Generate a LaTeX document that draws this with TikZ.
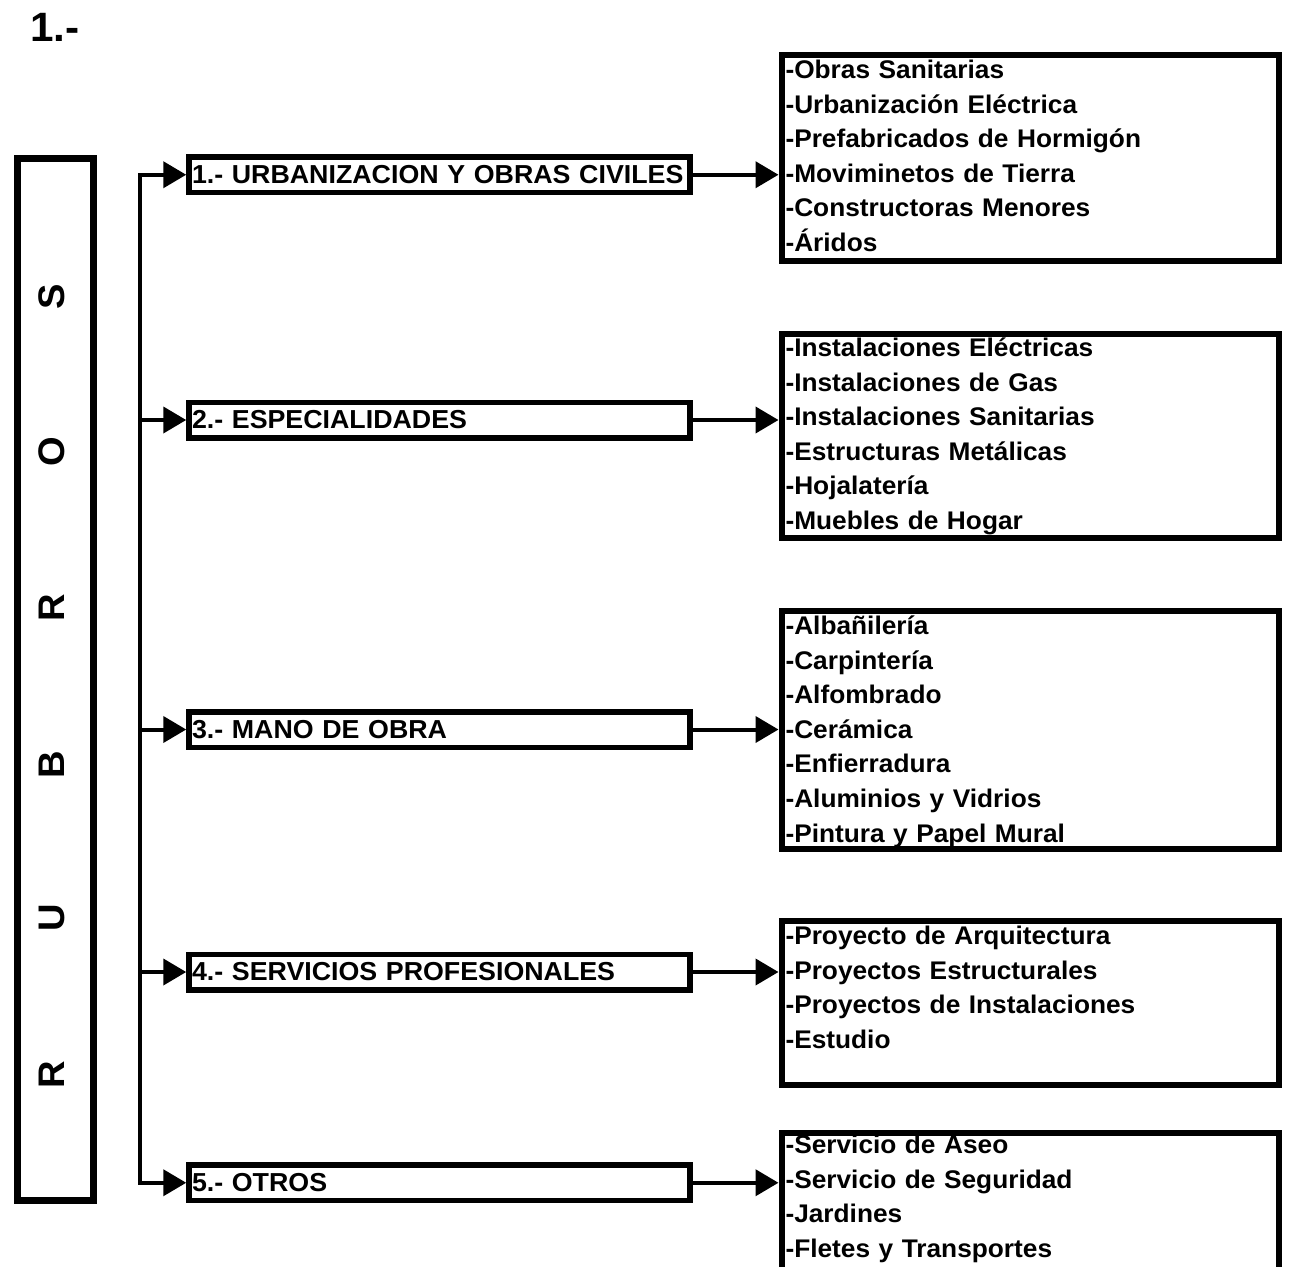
\documentclass[tikz,border=0pt]{standalone}
\usepackage{fontspec}
\setmainfont{Liberation Sans}[FakeStretch=1.03]
\usetikzlibrary{arrows.meta,positioning,calc}

\newcommand{\lista}[1]{\begin{tabular}[t]{@{}l@{}}#1\end{tabular}}

\tikzset{
  arr/.style={-{Triangle[length=23pt,width=26pt]},line width=4pt},
  catbox/.style={draw,line width=5.5pt,text width=495pt,inner xsep=3pt,inner ysep=0pt,
    minimum height=35.5pt,align=left,anchor=west,font=\fontsize{26}{30}\selectfont\bfseries},
  lstbox/.style={draw,line width=6pt,text width=489pt,inner xsep=4pt,inner ysep=0pt,
    align=left,anchor=north west,font=\fontsize{25.5}{34.6}\selectfont\bfseries},
  letra/.style={rotate=90,inner sep=0pt,font=\fontsize{37}{37}\selectfont\bfseries}
}

\begin{document}
\begin{tikzpicture}[x=1pt,y=-1pt]
    \useasboundingbox (0,0) rectangle (1289,1266);
    \clip (0,0) rectangle (1289,1266);
    \node[anchor=base west,inner sep=0pt,font=\fontsize{41}{41}\selectfont\bfseries] (title) at (30,41) {1.-};
    % caja lateral
    \node[draw,line width=7pt,minimum width=76pt,minimum height=1041.5pt,inner sep=0pt] (rubros) at (55,679.25) {};
    \node[letra] (l1) at (52,1075) {R};
    \node[letra] (l2) at (52,918) {U};
    \node[letra] (l3) at (52,765) {B};
    \node[letra] (l4) at (52,608) {R};
    \node[letra] (l5) at (52,452) {O};
    \node[letra] (l6) at (52,297) {S};
    % rubros
    \node[catbox] (cat1) at (186.25,174.75) {1.- URBANIZACION Y OBRAS CIVILES};
    \node[catbox] (cat2) at (186.25,420) {2.- ESPECIALIDADES};
    \node[catbox] (cat3) at (186.25,729.5) {3.- MANO DE OBRA};
    \node[catbox] (cat4) at (186.25,972) {4.- SERVICIOS PROFESIONALES};
    \node[catbox] (cat5) at (186.25,1182.75) {5.- OTROS};
    % listas
    \node[lstbox,text height=23.4pt,text depth=182.1pt] (lst1) at (778.5,52) {\lista{-Obras Sanitarias\\-Urbanización Eléctrica\\-Prefabricados de Hormigón\\-Moviminetos de Tierra\\-Constructoras Menores\\-Áridos}};
    \node[lstbox,text height=22.4pt,text depth=181.6pt] (lst2) at (778.5,331) {\lista{-Instalaciones Eléctricas\\-Instalaciones de Gas\\-Instalaciones Sanitarias\\-Estructuras Metálicas\\-Hojalatería\\-Muebles de Hogar}};
    \node[lstbox,text height=23.4pt,text depth=214.6pt] (lst3) at (778.5,608) {\lista{-Albañilería\\-Carpintería\\-Alfombrado\\-Cerámica\\-Enfierradura\\-Aluminios y Vidrios\\-Pintura y Papel Mural}};
    \node[lstbox,text height=23.4pt,text depth=140.6pt] (lst4) at (778.5,918) {\lista{-Proyecto de Arquitectura\\-Proyectos Estructurales\\-Proyectos de Instalaciones\\-Estudio}};
    \node[lstbox,text height=20.4pt,text depth=136.6pt] (lst5) at (778.5,1130) {\lista{-Servicio de Aseo\\-Servicio de Seguridad\\-Jardines\\-Fletes y Transportes}};
    % tronco
    \coordinate (trunk) at (140,0);
    \draw[line width=4.5pt,line cap=rect] (trunk |- cat1.west) -- (trunk |- cat5.west);
    \draw[arr] (trunk |- cat1.west) -- (cat1.west);
    \draw[arr] (trunk |- cat2.west) -- (cat2.west);
    \draw[arr] (trunk |- cat3.west) -- (cat3.west);
    \draw[arr] (trunk |- cat4.west) -- (cat4.west);
    \draw[arr] (trunk |- cat5.west) -- (cat5.west);
    \draw[arr] (cat1.east) -- (cat1.east -| lst1.west);
    \draw[arr] (cat2.east) -- (cat2.east -| lst2.west);
    \draw[arr] (cat3.east) -- (cat3.east -| lst3.west);
    \draw[arr] (cat4.east) -- (cat4.east -| lst4.west);
    \draw[arr] (cat5.east) -- (cat5.east -| lst5.west);
\end{tikzpicture}
\end{document}
